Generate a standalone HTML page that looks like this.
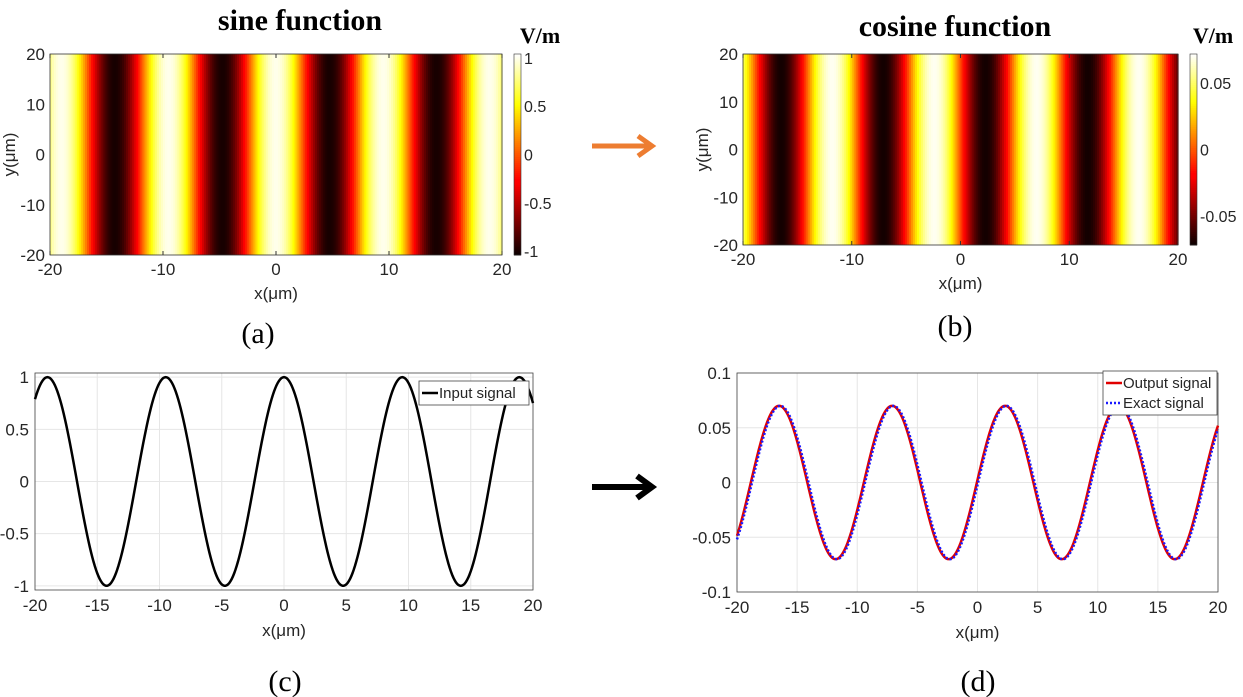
<!DOCTYPE html>
<html><head><meta charset="utf-8">
<style>
html,body{margin:0;padding:0;background:#fff;}
svg{display:block;}
text{font-family:"Liberation Sans",Arial,sans-serif;fill:#262626;}
.serif{font-family:"Liberation Serif","Times New Roman",serif;fill:#000;}
</style></head>
<body>
<svg id="fig" width="1243" height="697" viewBox="0 0 1243 697" xmlns="http://www.w3.org/2000/svg">
<text class="serif" x="300" y="30" font-size="30" font-weight="bold" text-anchor="middle">sine function</text>
<text class="serif" x="540" y="43" font-size="22" font-weight="bold" text-anchor="middle">V/m</text>
<text class="serif" x="955" y="36" font-size="30" font-weight="bold" text-anchor="middle">cosine function</text>
<text class="serif" x="1213" y="43" font-size="22" font-weight="bold" text-anchor="middle">V/m</text>
<text class="serif" x="258" y="343" font-size="30" text-anchor="middle">(a)</text>
<text class="serif" x="955" y="336" font-size="30" text-anchor="middle">(b)</text>
<text class="serif" x="285" y="691" font-size="30" text-anchor="middle">(c)</text>
<text class="serif" x="978" y="691" font-size="30" text-anchor="middle">(d)</text>
<g>
<line x1="592" y1="146" x2="648" y2="146" stroke="#ed7d31" stroke-width="5"/>
<polyline points="638,136 652,146 638,156" fill="none" stroke="#ed7d31" stroke-width="5"/>
</g>
<g>
<line x1="592" y1="487" x2="648" y2="487" stroke="#000" stroke-width="6"/>
<polyline points="637,476 652,487 637,498" fill="none" stroke="#000" stroke-width="6"/>
</g>
</svg>
<script>
// ---- data (extrema of each signal, x in µm) ----
const inputExtremaX = [-23.75, -19, -14.25, -9.5, -4.75, 0, 4.75, 9.5, 14.2, 18.9, 23.7];
const inputExtremaY = [-1, 1, -1, 1, -1, 1, -1, 1, -1, 1, -1];
const outputExtremaX = [-21.2, -16.5, -11.8, -7.1, -2.4, 2.3, 7.0, 11.7, 16.4, 21.1];
const outputExtremaY = [-0.07, 0.07, -0.07, 0.07, -0.07, 0.07, -0.07, 0.07, -0.07, 0.07];
const cosineMapExtremaX = [-21.2, -16.5, -11.8, -7.1, -2.4, 2.3, 7.0, 11.7, 16.4, 21.1];
const cosineMapExtremaY = [0.07, -0.07, 0.07, -0.07, 0.07, -0.07, 0.07, -0.07, 0.07, -0.07];
const xTicksMap = [-20, -10, 0, 10, 20];
const yTicksMap = [-20, -10, 0, 10, 20];
const cbTicksA = [-1, -0.5, 0, 0.5, 1];
const cbTickLabelsA = ['-1', '-0.5', '0', '0.5', '1'];
const cbTicksB = [-0.05, 0, 0.05];
const cbTickLabelsB = ['-0.05', '0', '0.05'];
const xTicksLine = [-20, -15, -10, -5, 0, 5, 10, 15, 20];
const yTicksC = [-1, -0.5, 0, 0.5, 1];
const yTickLabelsC = ['-1', '-0.5', '0', '0.5', '1'];
const yTicksD = [-0.1, -0.05, 0, 0.05, 0.1];
const yTickLabelsD = ['-0.1', '-0.05', '0', '0.05', '0.1'];

const NS = 'http://www.w3.org/2000/svg';
const svg = document.getElementById('fig');
function mk(tag, attrs, parent) {
  const e = document.createElementNS(NS, tag);
  for (const k in attrs) e.setAttribute(k, attrs[k]);
  (parent || svg).appendChild(e);
  return e;
}
function interp(xs, ys, x) {
  for (let i = 0; i < xs.length - 1; i++) {
    if (x >= xs[i] && x <= xs[i + 1]) {
      const t = (x - xs[i]) / (xs[i + 1] - xs[i]);
      return ys[i] + (ys[i + 1] - ys[i]) * (1 - Math.cos(Math.PI * t)) / 2;
    }
  }
  return ys[ys.length - 1];
}
function hot(v) {
  const c = x => Math.max(0, Math.min(1, x));
  const r = c(0.04 + v / 0.375), g = c((v - 0.375) / 0.375), b = c((v - 0.75) / 0.25);
  return 'rgb(' + Math.round(r * 255) + ',' + Math.round(g * 255) + ',' + Math.round(b * 255) + ')';
}
function scale(d0, d1, r0, r1) { return v => r0 + (v - d0) / (d1 - d0) * (r1 - r0); }

function heatmap(p) {
  const g = mk('g', {});
  
  
  const sx = scale(-20, 20, p.x0, p.x1), sy = scale(-20, 20, p.y1, p.y0);
  const N = 220, w = (p.x1 - p.x0) / N;
  for (let i = 0; i < N; i++) {
    const xv = -20 + (i + 0.5) * 40 / N;
    const v = interp(p.ex, p.ey, xv);
    const r = mk('rect', {x: (sx(-20 + i * 40 / N)).toFixed(2), y: p.y0, width: (w + 0.6).toFixed(2), height: p.y1 - p.y0, fill: hot((v - p.cmin) / (p.cmax - p.cmin))}, g);
    
    
  }
  mk('rect', {x: p.x0, y: p.y0, width: p.x1 - p.x0, height: p.y1 - p.y0, fill: 'none', stroke: '#333', 'stroke-width': 0.8}, g);
  xTicksMap.forEach(t => {
    mk('line', {x1: sx(t), x2: sx(t), y1: p.y1, y2: p.y1 - 4, stroke: '#333'}, g);
    mk('line', {x1: sx(t), x2: sx(t), y1: p.y0, y2: p.y0 + 4, stroke: '#333'}, g);
    const tx = mk('text', {x: sx(t), y: p.y1 + 20, 'font-size': 17, 'text-anchor': 'middle'}, g);
    tx.textContent = t;
    
    
  });
  yTicksMap.forEach(t => {
    const ty = mk('text', {x: p.x0 - 5, y: sy(t) + 6, 'font-size': 17, 'text-anchor': 'end'}, g);
    ty.textContent = t;
    
    
  });
  const xl = mk('text', {x: (p.x0 + p.x1) / 2, y: p.y1 + 44, 'font-size': 17, 'text-anchor': 'middle'}, g);
  xl.textContent = 'x(\u03BCm)';
  
  
  const cy = (p.y0 + p.y1) / 2;
  const yl = mk('text', {x: 0, y: 0, 'font-size': 17, 'text-anchor': 'middle', transform: 'translate(' + (p.x0 - 35) + ',' + cy + ') rotate(-90)'}, g);
  yl.textContent = 'y(\u03BCm)';
  
  
  const cb = mk('g', {}, g);
  
  
  const sc = scale(p.cmin, p.cmax, p.y1, p.y0);
  const M = 100, h = (p.y1 - p.y0) / M;
  for (let i = 0; i < M; i++) {
    mk('rect', {x: p.cbx, y: (p.y1 - (i + 1) * h).toFixed(2), width: 7, height: (h + 0.5).toFixed(2), fill: hot((i + 0.5) / M)}, cb);
  }
  mk('rect', {x: p.cbx, y: p.y0, width: 7, height: p.y1 - p.y0, fill: 'none', stroke: '#333', 'stroke-width': 0.6}, cb);
  p.cbt.forEach((t, i) => {
    const ct = mk('text', {x: p.cbx + 10, y: sc(t) + 6, 'font-size': 16}, cb);
    ct.textContent = p.cbl[i];
    
    
  });
}

function linePanel(p) {
  const g = mk('g', {});
  
  
  const sx = scale(-20, 20, p.x0, p.x1), sy = scale(p.ymin, p.ymax, p.y1, p.y0);
  xTicksLine.forEach(t => {
    mk('line', {x1: sx(t), x2: sx(t), y1: p.y0, y2: p.y1, stroke: '#e6e6e6'}, g);
    const tx = mk('text', {x: sx(t), y: p.y1 + 21, 'font-size': 17, 'text-anchor': 'middle'}, g);
    tx.textContent = t;
    
    
  });
  p.yt.forEach((t, i) => {
    mk('line', {x1: p.x0, x2: p.x1, y1: sy(t), y2: sy(t), stroke: '#e6e6e6'}, g);
    const ty = mk('text', {x: p.x0 - 6, y: sy(t) + 6, 'font-size': 17, 'text-anchor': 'end'}, g);
    ty.textContent = p.yl[i];
    
    
  });
  mk('rect', {x: p.x0, y: p.y0, width: p.x1 - p.x0, height: p.y1 - p.y0, fill: 'none', stroke: '#444', 'stroke-width': 0.8}, g);
  p.series.forEach(s => {
    let d = '';
    for (let i = 0; i <= 400; i++) {
      const xv = -20 + i * 0.1;
      d += (i ? 'L' : 'M') + sx(xv).toFixed(2) + ',' + sy(interp(s.ex, s.ey, xv)).toFixed(2);
    }
    const path = mk('path', {d: d, fill: 'none', stroke: s.color, 'stroke-width': s.w, 'stroke-dasharray': s.dash || 'none'}, g);
    
    
  });
  const xl = mk('text', {x: (p.x0 + p.x1) / 2, y: p.y1 + 46, 'font-size': 17, 'text-anchor': 'middle'}, g);
  xl.textContent = 'x(\u03BCm)';
  
  
  const lg = mk('g', {}, g);
  
  
  const L = p.legend;
  mk('rect', {x: L.x, y: L.y, width: L.w, height: 4 + p.series.length * 20, fill: '#fff', stroke: '#444', 'stroke-width': 0.8}, lg);
  p.series.forEach((s, i) => {
    const yy = L.y + 12 + i * 20;
    mk('line', {x1: L.x + 3, x2: L.x + 19, y1: yy, y2: yy, stroke: s.color, 'stroke-width': s.w, 'stroke-dasharray': s.dash || 'none'}, lg);
    const t = mk('text', {x: L.x + 20, y: yy + 5, 'font-size': 15}, lg);
    t.textContent = s.label;
    
    
  });
}

heatmap({name: 'sine-heatmap', x0: 50, x1: 502, y0: 54, y1: 255, ex: inputExtremaX, ey: inputExtremaY, cmin: -1.04, cmax: 1.04, cbx: 514, cbt: cbTicksA, cbl: cbTickLabelsA});
heatmap({name: 'cosine-heatmap', x0: 743, x1: 1178, y0: 54, y1: 245, ex: cosineMapExtremaX, ey: cosineMapExtremaY, cmin: -0.072, cmax: 0.072, cbx: 1190, cbt: cbTicksB, cbl: cbTickLabelsB});
linePanel({name: 'input-signal-chart', x0: 35, x1: 533, y0: 373, y1: 590, ymin: -1.04, ymax: 1.04, yt: yTicksC, yl: yTickLabelsC,
  legend: {x: 419, y: 381, w: 110},
  series: [{name: 'input-signal-line', label: 'Input signal', ex: inputExtremaX, ey: inputExtremaY, color: '#000', w: 2.5}]});
linePanel({name: 'output-signal-chart', x0: 737, x1: 1218, y0: 373, y1: 592, ymin: -0.1, ymax: 0.1, yt: yTicksD, yl: yTickLabelsD,
  legend: {x: 1103, y: 371, w: 114},
  series: [{name: 'output-signal-line', label: 'Output signal', ex: outputExtremaX, ey: outputExtremaY, color: '#e00000', w: 2.5},
           {name: 'exact-signal-line', label: 'Exact signal', ex: outputExtremaX.map(v => v + 0.1), ey: outputExtremaY, color: '#1a1aff', w: 2.5, dash: '2,2'}]});
</script>
</body></html>
